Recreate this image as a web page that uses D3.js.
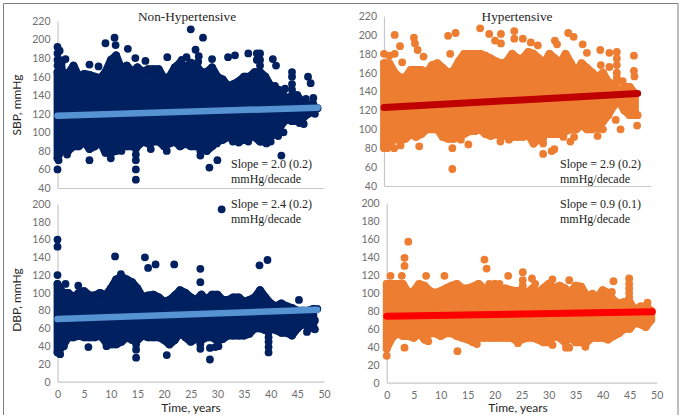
<!DOCTYPE html>
<html>
<head>
<meta charset="utf-8">
<script src="https://cdn.jsdelivr.net/npm/d3@7"></script>
<style>
  html, body { margin: 0; padding: 0; background: #fff; }
</style>
</head>
<body>
<div id="chart"></div>
<script>
var vWidth = 682;
var vHeight = 420;

var yearTicks = [0, 5, 10, 15, 20, 25, 30, 35, 40, 45, 50];
var sbpTicks = [40, 60, 80, 100, 120, 140, 160, 180, 200, 220];
var dbpTicks = [0, 20, 40, 60, 80, 100, 120, 140, 160, 180, 200];

// years for the upper / lower edge of each dense cloud
var years = d3.range(0, 49);

// Non-hypertensive SBP
var sbpNonHi = [165,165,163,172,160,163,162,160,158,165,178,183,168,172,165,170,165,168,168,168,158,160,170,175,170,175,172,165,165,170,160,157,150,152,155,160,160,165,165,160,150,147,145,135,140,140,130,130,130];
var sbpNonLo = [72,85,80,85,85,90,82,85,90,78,78,80,90,85,85,85,90,88,90,90,85,88,90,85,88,85,85,90,80,85,90,92,95,92,90,92,95,95,90,90,95,100,108,115,112,112,115,120,122];
var sbpNonLine = [[0, 118], [48.8, 126.5]];
var sbpNonDots = [[0,60],[14.7,49],[14.7,60],[6,70],[10,72],[12,80],[17.5,82],[20.5,80],[28.5,62],[30,70],[42,75],[1.8,76],[0.2,70],
  [0,192],[0,185],[0,178],[0,172],[0.4,188],[0.4,178],[0.8,175],[0.8,170],
  [14.7,70],[14.7,76],[14.7,82],[26.8,75],[26.8,80],
  [25,211],[27.3,202],[10.7,202],[9,196],[10.9,194],[13.2,190],[6,173],[1.5,179],[7.7,171],[14.6,180],[16.5,177],[20.6,181],[24.2,181],[25.9,189],[26.5,182],[26.4,176],[29,179],[32,181],[33.3,183],[35.8,185],
  [38,185],[38,178],[38,172],[37.4,185],[37.4,178],[40.4,179],[41,172],[47,160],[47.5,153],[48,137],[46.6,136],[48.3,120],[46.2,109],[45.4,110],[42.4,100],[41.4,96],[40,90],[39.2,88],[35.8,90],[34,89],[32.9,90],[29.9,88],[42.7,147],[42.3,138],[40.8,150],
  [44,165],[44,160],[44,152],[44,146],[23.3,178],[24.5,170],[25,168],[48.8,126]];

// Hypertensive SBP
var sbpHypHi = [170,170,160,155,155,163,163,163,160,168,170,165,160,162,172,180,180,180,180,178,175,172,170,172,180,175,175,182,180,175,170,180,175,170,180,170,160,170,165,160,155,160,150,148,140,145,145,138];
var sbpHypLo = [82,85,90,88,90,95,92,95,100,100,100,92,90,90,92,95,98,98,100,95,93,95,92,95,92,92,92,95,85,90,95,95,95,95,98,100,100,105,100,100,105,108,115,125,130,120,115,115];
var sbpHypLine = [[0, 123], [47.5, 138]];
var sbpHypDots = [[0,180],[1,178],[2,200],[2,180],[3,188],[3.4,171],[5.6,197],[5.8,191],[6.3,184],[7.4,177],[12,199],[13.4,202],[12.4,180],[18,207],[19.7,201],[20.8,194],[21.9,201],[21.9,191],[24.4,204],[24.4,196],[26,196],[27.5,192],[28.8,189],[32,194],[32.4,190],[34.5,202],[35.5,198],[37.2,190],[38,181],[40.5,184],[42.2,181],[43.6,182],[43.6,175],[43.6,168],[43.6,160],[43.6,155],[43.6,150],[42.2,166],[40.6,168],[44.7,151],[46.8,178],[46.8,162],[46.9,156],[45,126],[47.4,104],[47.5,115],[44.3,100],[43.4,110],[41,100],[40,93],[40,101],[35.6,92],[34.9,87],[33.6,92],[31.9,79],[31.4,77],[29.8,74],[29.8,85],[29.8,90],[21.8,87],[23.4,89],[15.8,84],[12.8,80],[12.8,58],[6.6,82],[3.1,83],[1.9,80],[0,80],[0.6,80],[14.4,89],[13.4,93]];

// Non-hypertensive DBP
var dbpNonHi = [110,100,100,95,100,102,97,97,100,97,105,115,118,115,112,105,95,97,98,95,90,92,97,103,100,95,92,98,92,98,98,92,92,95,95,90,92,95,103,95,88,85,88,85,83,80,80,80,82];
var dbpNonLo = [33,40,50,50,52,50,50,50,52,45,42,42,45,50,47,47,52,50,50,50,47,42,47,55,50,45,48,47,50,50,46,48,52,52,52,52,54,60,60,58,60,58,55,55,52,60,65,62,60];
var dbpNonLine = [[0, 70.5], [48.7, 81]];
var dbpNonDots = [[0,160],[0,152],[0,120],[1.5,110],[3.9,108],[5.8,39],[10.8,141],[11.9,121],[16.4,140],[17,128],[18.4,132],[21.9,132],[20.5,30],[26.8,127],[26.8,112],[28.6,25],[28.6,38],[29.6,39],[30.2,40],[37.9,131],[39.4,137],[45.3,92],[48.75,82],[48.3,69],[48.3,59],[46.8,56],[47.7,68],[39.6,33],[39.6,39],[39.6,45],[39.6,50],[39.6,55],[14.75,27],[14.75,36],[14.75,42],[26.8,37],[26.8,42],[26.8,47],[0.5,31],[30.8,194],[1.2,40],[9.2,40]];

// Hypertensive DBP
var dbpHypYears = d3.range(0, 50);
var dbpHypHi = [110,110,110,110,100,102,110,108,102,100,102,105,108,110,105,105,107,110,105,105,110,103,105,103,102,103,100,105,100,105,110,105,108,105,100,108,107,97,95,95,103,100,92,88,90,90,80,85,85,80];
var dbpHypLo = [38,50,55,52,52,50,55,48,55,55,52,55,55,52,50,48,45,50,50,50,50,50,50,50,47,48,50,50,48,45,45,52,50,45,50,45,45,45,50,50,50,48,52,55,60,60,67,65,62,70];
var dbpHypLine = [[0, 74], [49.2, 79]];
var dbpHypDots = [[0,30],[0,38],[0.7,119],[2.8,119],[3.3,130],[3.3,139],[4,157],[3.3,39],[7.3,119],[10.7,119],[13.1,35],[18.1,137],[18.5,127],[19,110],[20.9,110],[22.5,119],[25.2,123],[25.2,114],[25.2,108],[26.9,116],[27.5,110],[30.7,115],[33.8,114],[42,113],[41.7,101],[44.9,116],[44.9,110],[44.9,105],[44.9,100],[44.9,95],[38.1,99],[48.3,89],[33.2,39],[33.8,39],[36.8,40],[30.7,42],[24.3,44],[16.7,43],[7.7,46]];

var navy = "#002060";
var orange = "#ed7d31";
var dotR = 3.9;

var svg = d3.select("#chart")
    .append("svg")
    .attr("width", vWidth)
    .attr("height", vHeight)
    .style("display", "block");

// picture frame
svg.append("path")
    .attr("d", "M3.5,415V3.5H678V415")
    .attr("fill", "none")
    .attr("stroke", "#7f7f7f")
    .attr("stroke-width", 1);

function drawPanel(p) {
    var x = d3.scaleLinear().domain([0, 50]).range(p.xRange);
    var y = d3.scaleLinear().domain(p.yDomain).range(p.yRange);
    var g = svg.append("g");

    // axes
    var yAxis = d3.axisLeft(y).tickValues(p.yTicks).tickSize(0).tickPadding(7);
    var yG = g.append("g")
        .attr("transform", "translate(" + p.xRange[0] + ",0)")
        .call(yAxis);
    var xAxis = d3.axisBottom(x).tickValues(yearTicks).tickSize(0).tickPadding(9);
    var xG = g.append("g")
        .attr("transform", "translate(0," + p.yRange[0] + ")")
        .call(xAxis);
    if (!p.xLabels) xG.selectAll("text").remove();

    g.selectAll(".domain").attr("stroke", "#c8c8c8").attr("stroke-width", 1.2);
    g.selectAll(".tick text")
        .attr("fill", "#6e6e6e")
        .attr("font-family", "Lato, sans-serif")
        .attr("font-size", 10.5);

    // dense part of the cloud
    var area = d3.area()
        .x(function (d) { return x(d); })
        .y0(function (d, i) { return y(p.lo[i]); })
        .y1(function (d, i) { return y(p.hi[i]); });

    g.append("path")
        .attr("d", area(p.years))
        .attr("fill", p.color)
        .attr("stroke", p.color)
        .attr("stroke-width", dotR * 2)
        .attr("stroke-linejoin", "round");

    var edge = p.years.map(function (t, i) { return [t, p.hi[i]]; })
        .concat(p.years.map(function (t, i) { return [t, p.lo[i]]; }));

    g.selectAll("circle.edge").data(edge).enter().append("circle")
        .attr("class", "edge")
        .attr("cx", function (d) { return x(d[0]); })
        .attr("cy", function (d) { return y(d[1]); })
        .attr("r", dotR)
        .attr("fill", p.color);

    g.selectAll("circle.dot").data(p.dots).enter().append("circle")
        .attr("class", "dot")
        .attr("cx", function (d) { return x(d[0]); })
        .attr("cy", function (d) { return y(d[1]); })
        .attr("r", dotR)
        .attr("fill", p.color);

    // trend line
    var line = d3.line()
        .x(function (d) { return x(d[0]); })
        .y(function (d) { return y(d[1]); });

    g.append("path")
        .attr("d", line(p.line))
        .attr("fill", "none")
        .attr("stroke", p.lineColor)
        .attr("stroke-width", p.lineWidth)
        .attr("stroke-linecap", "round");

    // slope note
    g.append("text")
        .attr("x", p.noteX)
        .attr("y", p.noteY)
        .attr("font-family", "'Liberation Serif', serif")
        .attr("font-size", 12)
        .attr("fill", "#222")
        .text(p.note);
    g.append("text")
        .attr("x", p.noteX)
        .attr("y", p.noteY + 15)
        .attr("font-family", "'Liberation Serif', serif")
        .attr("font-size", 12)
        .attr("fill", "#222")
        .text("mmHg/decade");
}

drawPanel({
    xRange: [57.5, 324], yDomain: [40, 220], yRange: [188, 21], yTicks: sbpTicks, xLabels: false,
    years: years, hi: sbpNonHi, lo: sbpNonLo, dots: sbpNonDots, line: sbpNonLine,
    color: navy, lineColor: "#5593d3", lineWidth: 6.5,
    note: "Slope = 2.0 (0.2)", noteX: 231, noteY: 168
});
drawPanel({
    xRange: [384, 651], yDomain: [40, 220], yRange: [186, 16], yTicks: sbpTicks, xLabels: false,
    years: years.slice(0, 48), hi: sbpHypHi, lo: sbpHypLo, dots: sbpHypDots, line: sbpHypLine,
    color: orange, lineColor: "#c00000", lineWidth: 7,
    note: "Slope = 2.9 (0.2)", noteX: 560, noteY: 168
});
drawPanel({
    xRange: [57.5, 324], yDomain: [0, 200], yRange: [381.7, 204], yTicks: dbpTicks, xLabels: true,
    years: years, hi: dbpNonHi, lo: dbpNonLo, dots: dbpNonDots, line: dbpNonLine,
    color: navy, lineColor: "#5593d3", lineWidth: 6.5,
    note: "Slope = 2.4 (0.2)", noteX: 231, noteY: 208
});
drawPanel({
    xRange: [386.7, 656.7], yDomain: [0, 200], yRange: [382.7, 203], yTicks: dbpTicks, xLabels: true,
    years: dbpHypYears, hi: dbpHypHi, lo: dbpHypLo, dots: dbpHypDots, line: dbpHypLine,
    color: orange, lineColor: "#ff0000", lineWidth: 7,
    note: "Slope = 0.9 (0.1)", noteX: 560, noteY: 208
});

// titles and axis names
function addLabel(txt, px, py, size, family, rotate) {
    var t = svg.append("text")
        .attr("text-anchor", "middle")
        .attr("font-family", family)
        .attr("font-size", size)
        .attr("fill", "#262626")
        .text(txt);
    if (rotate) t.attr("transform", "translate(" + px + "," + py + ") rotate(-90)");
    else t.attr("x", px).attr("y", py);
}

addLabel("Non-Hypertensive", 187, 21, 13.3, "'Liberation Serif', serif");
addLabel("Hypertensive", 517, 21, 13.3, "'Liberation Serif', serif");
addLabel("SBP, mmHg", 21, 105, 12, "Lato, sans-serif", true);
addLabel("DBP, mmHg", 21, 300, 12, "Lato, sans-serif", true);
addLabel("Time, years", 191, 412, 12, "Lato, sans-serif");
addLabel("Time, years", 518, 412, 12, "Lato, sans-serif");
</script>
</body>
</html>
